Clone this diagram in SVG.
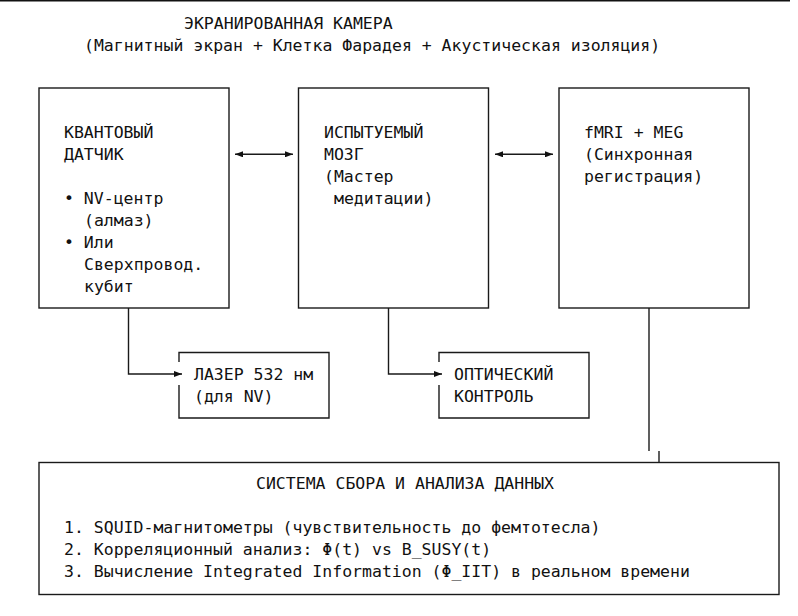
<svg xmlns="http://www.w3.org/2000/svg" width="798" height="616" viewBox="0 0 798 616">
<style>
text{font-family:"DejaVu Sans Mono","Liberation Mono",monospace;font-size:16.5px;fill:#111;white-space:pre}
.b{fill:none;stroke:#1a1a1a;stroke-width:1.4}
.c{fill:none;stroke:#1a1a1a;stroke-width:1.4}
</style>
<defs>
<marker id="ah" viewBox="0 0 8 6" refX="8" refY="3" markerWidth="8" markerHeight="6" markerUnits="userSpaceOnUse" orient="auto-start-reverse">
<path d="M0,0 L8,3 L0,6 z" fill="#111"/>
</marker>
</defs>
<rect width="798" height="616" fill="#fff"/>
<line x1="0" y1="0.7" x2="790" y2="0.7" stroke="#111" stroke-width="1.4"/>
<g id="title">
<text x="184" y="28.5">ЭКРАНИРОВАННАЯ КАМЕРА</text>
<text x="84" y="51">(Магнитный экран + Клетка Фарадея + Акустическая изоляция)</text>
</g>
<g id="sensor">
<rect class="b" x="39" y="88" width="190" height="220"/>
<text x="64" y="138">КВАНТОВЫЙ</text>
<text x="64" y="160">ДАТЧИК</text>
<text x="64" y="204">• NV-центр</text>
<text x="84" y="226">(алмаз)</text>
<text x="64" y="248">• Или</text>
<text x="84" y="270">Сверхпровод.</text>
<text x="84" y="292">кубит</text>
</g>
<g id="brain">
<rect class="b" x="298.5" y="88" width="190" height="220"/>
<text x="324" y="138">ИСПЫТУЕМЫЙ</text>
<text x="324" y="160">МОЗГ</text>
<text x="324" y="182">(Мастер</text>
<text x="334" y="204">медитации)</text>
</g>
<g id="fmri">
<rect class="b" x="559" y="88" width="190" height="220"/>
<text x="584" y="138">fMRI + MEG</text>
<text x="584" y="160">(Синхронная</text>
<text x="584" y="182">регистрация)</text>
</g>
<g id="laser">
<path class="b" d="M179,362 V352.5 H329 V418 H179 V385"/>
<text x="194" y="380">ЛАЗЕР 532 нм</text>
<text x="194" y="402">(для NV)</text>
</g>
<g id="optical">
<path class="b" d="M439,362 V352.5 H589 V418 H439 V385"/>
<text x="454" y="380">ОПТИЧЕСКИЙ</text>
<text x="454" y="402">КОНТРОЛЬ</text>
</g>
<g id="daq">
<rect class="b" x="39" y="462.5" width="740" height="132"/>
<text x="256" y="489">СИСТЕМА СБОРА И АНАЛИЗА ДАННЫХ</text>
<text x="64" y="533">1. SQUID-магнитометры (чувствительность до фемтотесла)</text>
<text x="64" y="555">2. Корреляционный анализ: Φ(t) vs B_SUSY(t)</text>
<text x="64" y="577">3. Вычисление Integrated Information (Φ_IIT) в реальном времени</text>
</g>
<g id="connectors">
<line class="c" x1="235" y1="154.3" x2="293" y2="154.3" marker-start="url(#ah)" marker-end="url(#ah)"/>
<line class="c" x1="495" y1="154.3" x2="553" y2="154.3" marker-start="url(#ah)" marker-end="url(#ah)"/>
<path class="c" d="M128.5,308 V374 H182" marker-end="url(#ah)"/>
<path class="c" d="M388.5,308 V374 H442" marker-end="url(#ah)"/>
<path class="c" d="M649,308 V451"/>
<path class="c" d="M659,451 V462"/>
</g>
</svg>
